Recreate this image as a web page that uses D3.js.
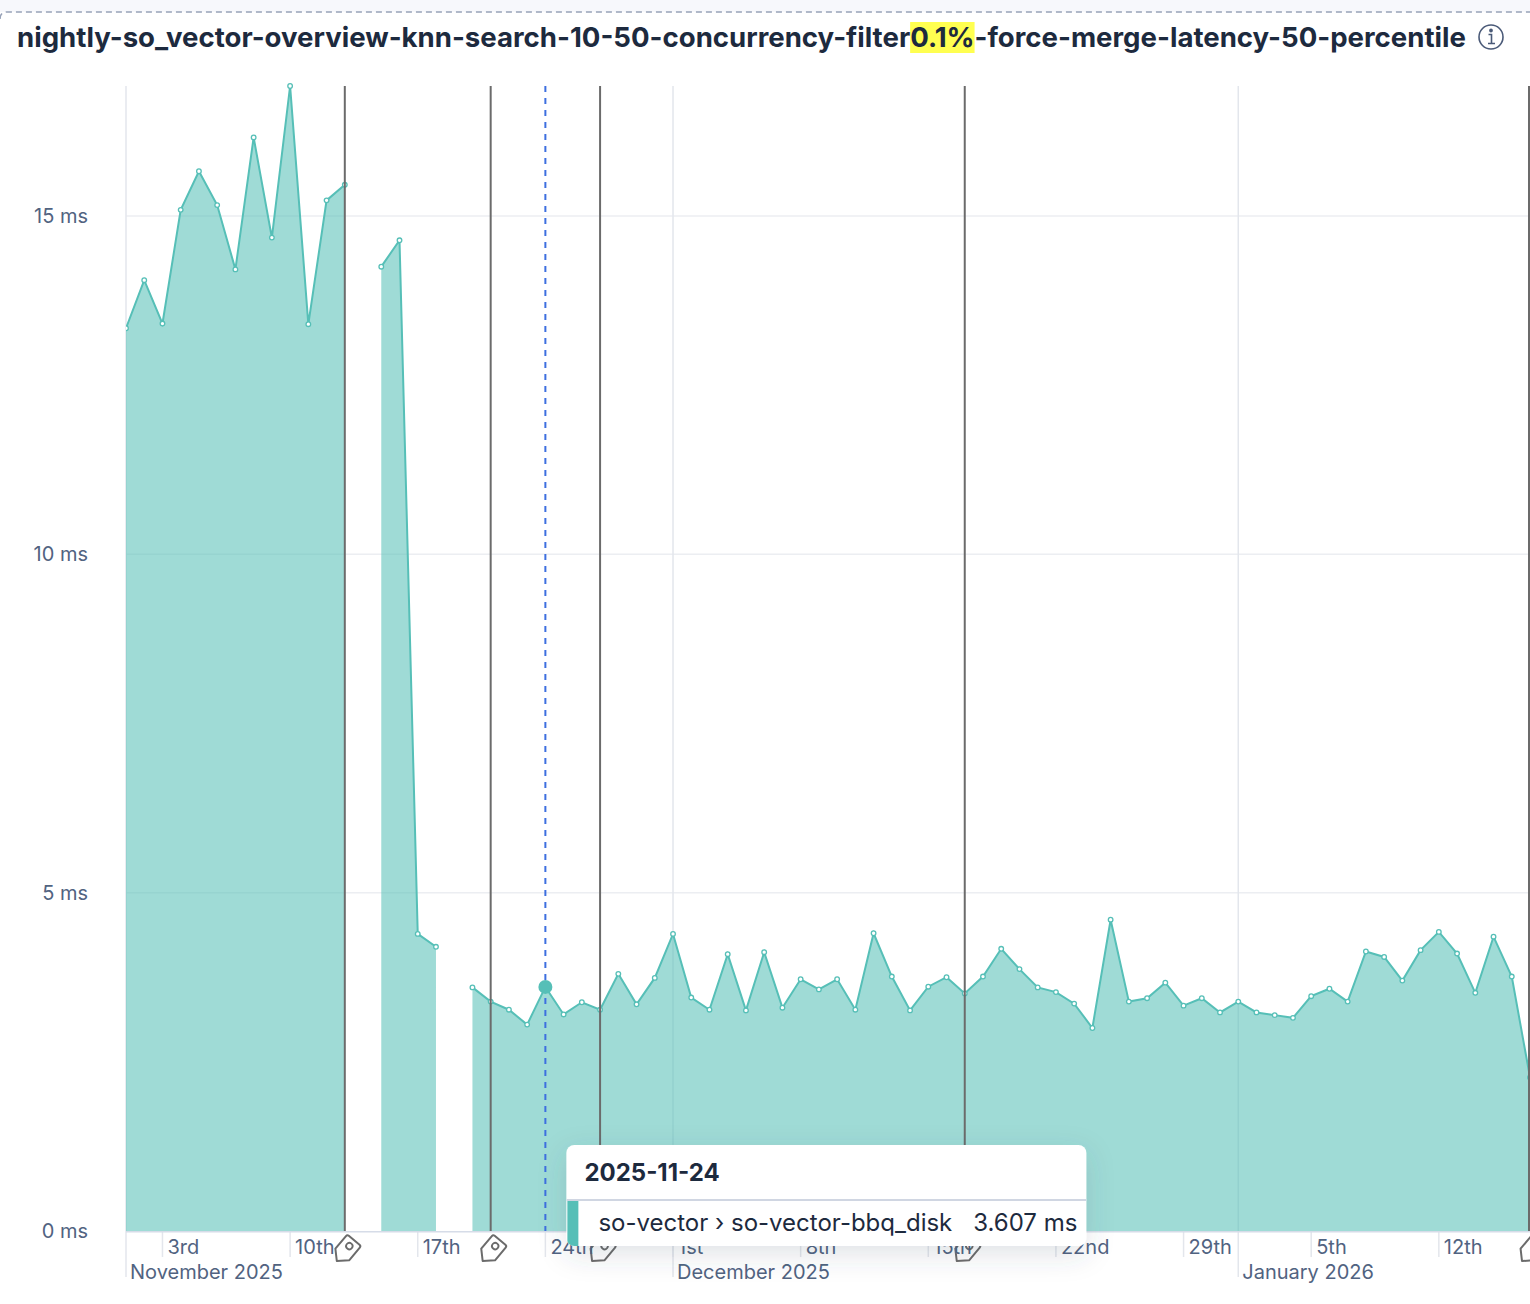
<!DOCTYPE html>
<html>
<head>
<meta charset="utf-8">
<script src="https://cdn.jsdelivr.net/npm/d3@7"></script>
<style>
  html, body { margin: 0; padding: 0; background: #ffffff; }
  svg { display: block; font-family: Inter, "Noto Sans", sans-serif; }
</style>
</head>
<body>
<svg id="chart" width="1530" height="1304"></svg>
<script>
// ---------- data ----------
const titleBefore = "nightly-so_vector-overview-knn-search-10-50-concurrency-filter";
const titleHighlight = "0.1%";
const titleAfter = "-force-merge-latency-50-percentile";

const startDate = "2025-11-01";
const endDate = "2026-01-17";
// one value per day from startDate to endDate (null = no run that day)
const latencyMs = [
  // November 2025
  13.34, 14.05, 13.41, 15.09, 15.66, 15.16, 14.21, 16.16, 14.68, 16.92,
  13.40, 15.23, 15.46, null, 14.25, 14.64, 4.39, 4.20, null, 3.60,
  3.39, 3.27, 3.05, 3.607, 3.20, 3.38, 3.27, 3.80, 3.35, 3.74,
  // December 2025
  4.39, 3.45, 3.27, 4.09, 3.26, 4.12, 3.30, 3.72, 3.57, 3.72,
  3.27, 4.40, 3.76, 3.26, 3.61, 3.75, 3.51, 3.76, 4.17, 3.87,
  3.60, 3.53, 3.36, 3.00, 4.60, 3.39, 3.44, 3.67, 3.33, 3.44, 3.23,
  // January 2026
  3.39, 3.23, 3.19, 3.15, 3.47, 3.58, 3.39, 4.13, 4.05, 3.70,
  4.15, 4.42, 4.10, 3.52, 4.35, 3.76, 2.27
];
const yTicks = [0, 5, 10, 15];
const annotationDates = ["2025-11-13", "2025-11-21", "2025-11-27", "2025-12-17", "2026-01-17"];
const tooltipDate = "2025-11-24";
const seriesName = "so-vector \u203A so-vector-bbq_disk";
const unit = "ms";

// ---------- setup ----------
const parse = d3.timeParse("%Y-%m-%d");
const days = d3.timeDay.range(parse(startDate), d3.timeDay.offset(parse(endDate), 1));
const data = days.map((d, i) => ({ date: d, v: latencyMs[i] }));

const W = 1530, H = 1304;
const plot = { left: 126, right: 1530, top: 86, bottom: 1231 };
const teal = "#56bfb7";
const axisText = "#516381";
const textDark = "#1d2a3e";

const x = d3.scaleTime().domain([parse(startDate), parse(endDate)]).range([plot.left, plot.right]);
const y = d3.scaleLinear().domain([0, d3.max(latencyMs)]).range([plot.bottom, plot.top]);

const svg = d3.select("#chart");
const defs = svg.append("defs");
const shadow = defs.append("filter").attr("id", "shadow")
  .attr("x", "-20%").attr("y", "-40%").attr("width", "140%").attr("height", "200%");
shadow.append("feDropShadow").attr("dx", 0).attr("dy", 8).attr("stdDeviation", 14)
  .attr("flood-color", "#3a4660").attr("flood-opacity", 0.16);

defs.append("clipPath").attr("id", "plotClip").append("rect")
  .attr("x", plot.left).attr("y", 0).attr("width", plot.right - plot.left).attr("height", H);

// ---------- panel top ----------
svg.append("rect").attr("x", 0).attr("y", 0).attr("width", W).attr("height", 12).attr("fill", "#f7f8fc");
svg.append("path").attr("d", "M0,19 Q0,12 7,12 L1530,12")
  .attr("fill", "none").attr("stroke", "#98a2b8").attr("stroke-width", 1.5).attr("stroke-dasharray", "6,4");

// ---------- title ----------
const title = svg.append("text").attr("x", 17).attr("y", 47)
  .attr("font-size", 27.6).attr("font-weight", 700).attr("fill", textDark);
title.append("tspan").text(titleBefore);
title.append("tspan").attr("class", "hl").text(titleHighlight);
title.append("tspan").text(titleAfter);
const tnode = title.node();
const hlStart = tnode.getSubStringLength(0, titleBefore.length);
const hlW = tnode.getSubStringLength(titleBefore.length, titleHighlight.length);
svg.insert("rect", "text").attr("x", 17 + hlStart).attr("y", 22).attr("width", hlW).attr("height", 31)
  .attr("fill", "#ffff50");

// info icon
const info = svg.append("g").attr("transform", "translate(1491,37)")
  .attr("stroke", "#4a5a78").attr("fill", "none").attr("stroke-width", 1.6);
info.append("circle").attr("r", 12);
info.append("circle").attr("cx", 0).attr("cy", -6.5).attr("r", 1.1).attr("fill", "#4a5a78");
info.append("path").attr("d", "M-2.5,-2.5 H0.5 V6.5 M-3,6.5 H4");

// ---------- grid ----------
const grid = svg.append("g");
grid.selectAll("line.h").data(yTicks.filter(t => t > 0)).join("line")
  .attr("x1", plot.left).attr("x2", plot.right)
  .attr("y1", d => y(d)).attr("y2", d => y(d))
  .attr("stroke", "#eceef2").attr("stroke-width", 1.5);

const monthStarts = d3.timeMonth.range(parse(startDate), parse(endDate));
grid.selectAll("line.m").data(monthStarts).join("line")
  .attr("x1", d => x(d)).attr("x2", d => x(d))
  .attr("y1", plot.top).attr("y2", 1277)
  .attr("stroke", "#e3e6ec").attr("stroke-width", 1.5);

const weekTicks = d3.timeMonday.range(parse(startDate), parse(endDate));
grid.selectAll("line.w").data(weekTicks).join("line")
  .attr("x1", d => x(d)).attr("x2", d => x(d))
  .attr("y1", plot.bottom).attr("y2", 1257)
  .attr("stroke", "#e3e6ec").attr("stroke-width", 1.5);

// ---------- series ----------
const g = svg.append("g").attr("clip-path", "url(#plotClip)");
const area = d3.area().defined(d => d.v != null)
  .x(d => x(d.date)).y0(y(0)).y1(d => y(d.v));
const line = d3.line().defined(d => d.v != null)
  .x(d => x(d.date)).y(d => y(d.v));

g.append("path").datum(data).attr("d", area).attr("fill", teal).attr("fill-opacity", 0.57);

// x baseline
svg.append("line").attr("x1", plot.left).attr("x2", plot.right)
  .attr("y1", plot.bottom + 0.75).attr("y2", plot.bottom + 0.75)
  .attr("stroke", "#d6dce8").attr("stroke-width", 1.5);

g.append("path").datum(data).attr("d", line).attr("fill", "none")
  .attr("stroke", teal).attr("stroke-width", 2);
g.selectAll("circle.pt").data(data.filter(d => d.v != null)).join("circle")
  .attr("cx", d => x(d.date)).attr("cy", d => y(d.v)).attr("r", 2.3)
  .attr("fill", "#ffffff").attr("stroke", teal).attr("stroke-width", 1.3);

// ---------- annotations ----------
const ann = svg.append("g");
const annDates = annotationDates.map(parse);
ann.selectAll("line").data(annDates).join("line")
  .attr("x1", d => Math.min(x(d), plot.right - 1)).attr("x2", d => Math.min(x(d), plot.right - 1))
  .attr("y1", plot.top).attr("y2", plot.bottom)
  .attr("stroke", "#6b6b6b").attr("stroke-width", 2);

// tag icons below the axis
const tagPath = "M0,0 L8.5,-9 L25,-9 Q27,-9 27,-7 L27,7 Q27,9 25,9 L8.5,9 Z";
const tags = ann.selectAll("g.tag").data(annDates).join("g")
  .attr("transform", d => `translate(${x(d) - 8},1261) rotate(-50)`);
tags.append("path").attr("d", tagPath).attr("fill", "#ffffff")
  .attr("stroke", "#6b6b6b").attr("stroke-width", 2).attr("stroke-linejoin", "round");
tags.append("circle").attr("cx", 19.5).attr("cy", 0).attr("r", 3.2)
  .attr("fill", "none").attr("stroke", "#6b6b6b").attr("stroke-width", 1.8);

// ---------- axes labels ----------
svg.append("g").selectAll("text").data(yTicks).join("text")
  .attr("x", 88).attr("y", d => y(d)).attr("dy", "0.35em")
  .attr("text-anchor", "end").attr("font-size", 20).attr("fill", axisText)
  .text(d => `${d} ${unit}`);

function ordinal(n) {
  const s = (n % 100 >= 11 && n % 100 <= 13) ? "th" : ({1: "st", 2: "nd", 3: "rd"}[n % 10] || "th");
  return n + s;
}
svg.append("g").selectAll("text").data(weekTicks).join("text")
  .attr("x", d => x(d) + 5).attr("y", 1254)
  .attr("font-size", 20).attr("fill", axisText)
  .text(d => ordinal(d.getDate()));
svg.append("g").selectAll("text").data(monthStarts).join("text")
  .attr("x", d => x(d) + 4).attr("y", 1278.5)
  .attr("font-size", 20).attr("fill", axisText)
  .text(d => d3.timeFormat("%B %Y")(d));

// ---------- crosshair + highlight ----------
const tip = data.find(d => +d.date === +parse(tooltipDate));
svg.append("line").attr("x1", x(tip.date)).attr("x2", x(tip.date))
  .attr("y1", plot.top).attr("y2", plot.bottom)
  .attr("stroke", "#3d6fe0").attr("stroke-width", 2).attr("stroke-dasharray", "6,6");
svg.append("circle").attr("cx", x(tip.date)).attr("cy", y(tip.v)).attr("r", 7).attr("fill", teal);

// ---------- tooltip ----------
const tw = 520, th = 101;
const tt = svg.append("g").attr("transform", `translate(${x(tip.date) + 21},1145)`);
defs.append("clipPath").attr("id", "ttClip").append("rect")
  .attr("width", tw).attr("height", th).attr("rx", 8);
tt.append("rect").attr("width", tw).attr("height", th).attr("rx", 8)
  .attr("fill", "#ffffff").attr("filter", "url(#shadow)");
const inner = tt.append("g").attr("clip-path", "url(#ttClip)");
inner.append("rect").attr("x", 0).attr("y", 54).attr("width", tw).attr("height", 2).attr("fill", "#d0d6e2");
inner.append("rect").attr("x", 1).attr("y", 56).attr("width", 11).attr("height", th - 56).attr("fill", teal);
tt.append("text").attr("x", 18).attr("y", 36).attr("font-size", 24).attr("font-weight", 700)
  .attr("fill", textDark).text(tooltipDate);
tt.append("text").attr("x", 32).attr("y", 86).attr("font-size", 24).attr("fill", textDark)
  .text(seriesName);
tt.append("text").attr("x", 511).attr("y", 86).attr("text-anchor", "end").attr("font-size", 24)
  .attr("fill", textDark).text(`${d3.format(".3f")(tip.v)} ${unit}`);
</script>
</body>
</html>
